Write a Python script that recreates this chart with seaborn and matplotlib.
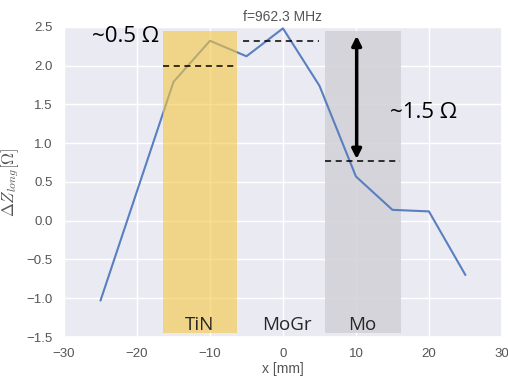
import numpy as np
import pandas as pd
import matplotlib
matplotlib.use("Agg")
import matplotlib.pyplot as plt
import seaborn as sns

x_mm = [-25, -15, -10, -5, 0, 5, 10, 15, 20, 25]
dz = [-1.03, 1.79, 2.32, 2.12, 2.48, 1.74, 0.57, 0.14, 0.12, -0.70]
xticks = [-30, -20, -10, 0, 10, 20, 30]
yticks = [-1.5, -1.0, -0.5, 0.0, 0.5, 1.0, 1.5, 2.0, 2.5]
regions = ["TiN", "MoGr", "Mo"]
tin_span = (-16.5, -6.3)
mo_span = (5.8, 16.2)

sns.set_theme(style="darkgrid")
plt.rcParams['font.family'] = ['Liberation Sans', 'DejaVu Sans']
plt.rcParams['mathtext.fontset'] = 'cm'

fig = plt.figure(figsize=(5.08, 3.83), dpi=100)
ax = fig.add_axes([0.126, 0.12, 0.862, 0.81])

df = pd.DataFrame({"x": x_mm, "dz": dz})
sns.lineplot(data=df, x="x", y="dz", ax=ax, color="#5a7fc0", lw=1.5, zorder=3)

ax.set_xlim(-30, 30)
ax.set_ylim(-1.5, 2.5)
ax.set_xticks(xticks)
ax.set_yticks(yticks)
ax.set_xticklabels([f"{t:d}" if t >= 0 else f"\u2212{abs(t)}" for t in xticks])
ax.set_yticklabels([f"{t:.1f}" if t >= 0 else f"\u2212{abs(t):.1f}" for t in yticks])
ax.tick_params(labelsize=9.5, colors="#555555", pad=2)

def yfrac(v):
    return (v + 1.5) / 4.0

ax.axvspan(*mo_span, ymin=yfrac(-1.45), ymax=yfrac(2.45), color="#cfcfd4", alpha=0.8, zorder=2, lw=0)
ax.axvspan(*tin_span, ymin=yfrac(-1.45), ymax=yfrac(2.45), color="#f5c842", alpha=0.6, zorder=4, lw=0)

ax.hlines(1.99, -16.5, -6.5, colors="black", linestyles=(0, (4, 3)), lw=1.1, zorder=5)
ax.hlines(2.32, -5.5, 5.0, colors="black", linestyles=(0, (4, 3)), lw=1.1, zorder=5)
ax.hlines(0.77, 5.8, 16.0, colors="black", linestyles=(0, (4, 3)), lw=1.1, zorder=5)

ax.annotate("", xy=(10.1, 2.42), xytext=(10.1, 0.76),
            arrowprops=dict(arrowstyle="<|-|>", color="black", lw=2.5, mutation_scale=14),
            zorder=6)

tf = ['Open Sans', 'Noto Sans', 'DejaVu Sans']
ax.text(-21.6, 2.38, "~0.5 \u03a9", fontsize=16, family=tf, color="black", ha="center", va="center", zorder=7)
ax.text(14.6, 1.39, "~1.5 \u03a9", fontsize=16, family=tf, color="black", ha="left", va="center", zorder=7)
ax.text(-11.4, -1.35, regions[0], fontsize=13.5, family=tf, ha="center", va="center", zorder=7)
ax.text(0.6, -1.35, regions[1], fontsize=13.5, family=tf, ha="center", va="center", zorder=7)
ax.text(10.8, -1.35, regions[2], fontsize=13.5, family=tf, ha="center", va="center", zorder=7)

ax.set_title("f=962.3 MHz", fontsize=10, color="#555555", pad=4)
ax.set_xlabel("x [mm]", fontsize=10, color="#555555", labelpad=1)
ax.set_ylabel(r"$\Delta Z_{long}[\Omega]$", fontsize=12, color="#555555", labelpad=4)

fig.savefig("out.png", dpi=100)
